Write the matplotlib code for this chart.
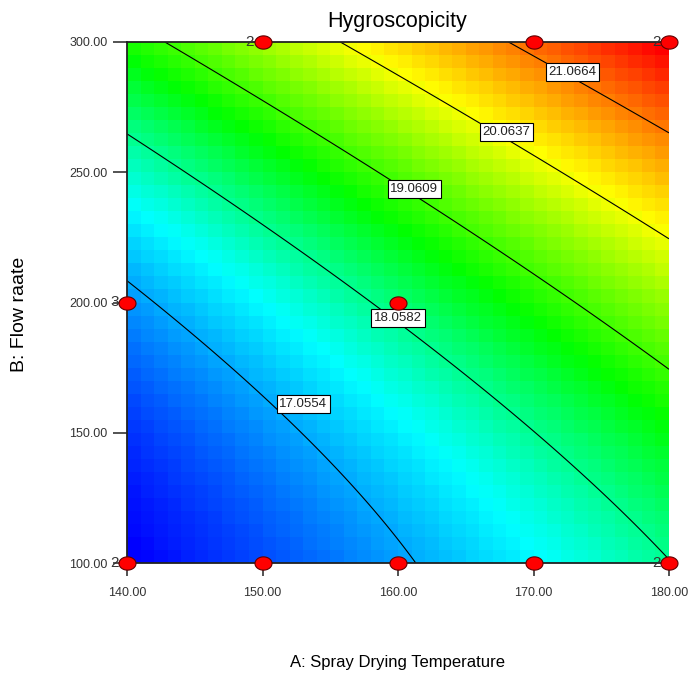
import numpy as np
import matplotlib
matplotlib.use("Agg")
import matplotlib.pyplot as plt
from matplotlib.colors import LinearSegmentedColormap
from matplotlib.path import Path

# contour levels shown on the chart
levels = [17.0554, 18.0582, 19.0609, 20.0637, 21.0664]

# points (temperature, flow rate)
c1_temp = [140.0, 147.6, 153.0, 160.7]
c1_flow = [207.9, 174.0, 161.0, 100.0]
c2_temp = [140.0, 149.3, 154.2, 160.0, 162.1, 166.1, 180.0]
c2_flow = [265.0, 231.7, 212.5, 194.0, 181.0, 165.6, 103.0]
c3_temp = [143.0, 149.6, 159.2, 161.2, 170.5, 180.0]
c3_flow = [300.0, 277.7, 247.0, 243.6, 207.9, 174.9]
c4_temp = [155.6, 166.1, 168.0, 170.5, 180.0]
c4_flow = [300.0, 267.4, 265.5, 253.5, 224.4]
c5_temp = [167.9, 172.9, 180.0]
c5_flow = [300.0, 288.5, 264.3]

# corner values (colour scale ends)
corner_temp = [140.0, 180.0]
corner_flow = [100.0, 300.0]
corner_val = [16.05, 22.07]

# label positions
lab_temp = [153.0, 160.0, 161.2, 168.0, 172.9]
lab_flow = [161.0, 194.0, 243.6, 265.5, 288.5]

# design points and replicate counts
pt_temp = [140, 150, 160, 170, 180, 140, 160, 150, 170, 180]
pt_flow = [100, 100, 100, 100, 100, 200, 200, 300, 300, 300]
pt_reps = [2, 1, 1, 1, 2, 3, 1, 2, 1, 2]

FONT = ["Liberation Sans", "DejaVu Sans"]


def terms(t, f):
    a = (np.asarray(t, float) - 160) / 20
    b = (np.asarray(f, float) - 200) / 100
    return np.column_stack([np.ones_like(a), a, b, a * b, a * a, b * b])


all_t, all_f, all_v = [], [], []
for tt, ff, lv in zip([c1_temp, c2_temp, c3_temp, c4_temp, c5_temp],
                      [c1_flow, c2_flow, c3_flow, c4_flow, c5_flow], levels):
    all_t += tt
    all_f += ff
    all_v += [lv] * len(tt)
all_t += corner_temp
all_f += corner_flow
all_v += corner_val
coef, *_ = np.linalg.lstsq(terms(all_t, all_f), np.array(all_v), rcond=None)


def surface(t, f):
    return (terms(t.ravel(), f.ravel()) @ coef).reshape(t.shape)


cmap = LinearSegmentedColormap.from_list(
    "de", [(0.0, "#0000ff"), (0.25, "#00ffff"), (0.45, "#00ff00"),
           (0.69, "#ffff00"), (1.0, "#ff0000")])

fig = plt.figure(figsize=(6.88, 6.77), dpi=100)
ax = fig.add_axes([127 / 688, 1 - 563 / 677, 542 / 688, 521 / 677])

# blocky colour field, 40 x 40 cells
n = 40
te = np.linspace(140, 180, n + 1)
fe = np.linspace(100, 300, n + 1)
tc = (te[:-1] + te[1:]) / 2
fc = (fe[:-1] + fe[1:]) / 2
TC, FC = np.meshgrid(tc, fc)
Z = surface(TC, FC)
ax.pcolormesh(te, fe, Z, cmap=cmap, vmin=Z.min(), vmax=Z.max(), shading="flat")

# smooth contour lines
tf = np.linspace(140, 180, 300)
ff_ = np.linspace(100, 300, 300)
TF, FF = np.meshgrid(tf, ff_)
ax.contour(TF, FF, surface(TF, FF), levels=levels, colors="black", linewidths=0.8)

for x, y, lv in zip(lab_temp, lab_flow, levels):
    ax.text(x, y, f"{lv:.4f}", ha="center", va="center", fontsize=9.5,
            family=FONT, color="#222222", zorder=5,
            bbox=dict(boxstyle="square,pad=0.2", fc="white", ec="black", lw=0.8))

# design points (slightly wide ellipses)
th = np.linspace(0, 2 * np.pi, 60)
ell = Path(np.column_stack([np.cos(th), 0.78 * np.sin(th)]), closed=True)
ax.scatter(pt_temp, pt_flow, marker=ell, s=150, c="#ff0000", edgecolors="#600000",
           linewidths=0.8, zorder=10, clip_on=False)
for x, y, r in zip(pt_temp, pt_flow, pt_reps):
    if r > 1:
        ax.annotate(str(r), (x, y), xytext=(-6, 0), textcoords="offset points",
                    ha="right", va="center", fontsize=11, color="#333333",
                    family=FONT, zorder=11, annotation_clip=False)

ax.set_xlim(140, 180)
ax.set_ylim(100, 300)
ax.set_xticks([140, 150, 160, 170, 180])
ax.set_yticks([100, 150, 200, 250, 300])
ax.set_xticklabels([f"{v:.2f}" for v in [140, 150, 160, 170, 180]])
ax.set_yticklabels([f"{v:.2f}" for v in [100, 150, 200, 250, 300]])
for lbl in ax.get_xticklabels() + ax.get_yticklabels():
    lbl.set_family(FONT)
    lbl.set_fontsize(9)
    lbl.set_color("#333333")
ax.tick_params(axis="x", length=9, width=1.3, color="#444444", pad=8)
ax.tick_params(axis="y", length=10, width=1.3, color="#444444", pad=4)
for side in ["left", "bottom", "top"]:
    ax.spines[side].set_linewidth(1.3)
    ax.spines[side].set_color("#222222")
ax.spines["right"].set_visible(False)

fig.text(397 / 688, 1 - 22 / 677, "Hygroscopicity", ha="center", va="center",
         fontsize=15.5, family=FONT)
fig.text(397 / 688, 1 - 662 / 677, "A: Spray Drying Temperature", ha="center",
         va="center", fontsize=12, family=FONT)
fig.text(20 / 688, 1 - 314 / 677, "B: Flow raate", ha="center", va="center",
         rotation=90, fontsize=14, family=FONT)

fig.savefig("out.png", dpi=100)
